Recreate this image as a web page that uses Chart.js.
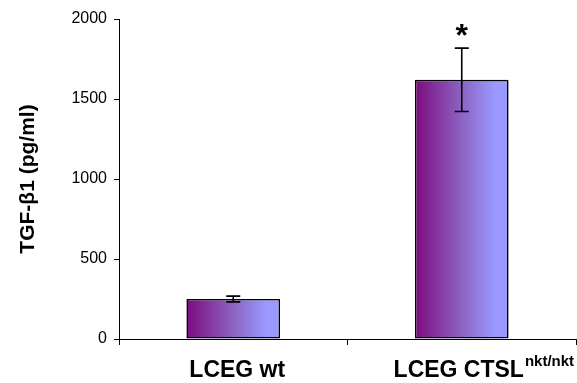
<!DOCTYPE html>
<html>
<head>
<meta charset="utf-8">
<script src="https://cdn.jsdelivr.net/npm/chart.js@4/dist/chart.umd.min.js"></script>
<style>
  html, body { margin: 0; padding: 0; background: #ffffff; }
  #wrap { width: 577px; height: 383px; }
</style>
</head>
<body>
<div id="wrap"><canvas id="c" width="577" height="383"></canvas></div>
<script>
// Group names and the superscript that follows each name
const categories = ['LCEG wt', 'LCEG CTSL'];
const superscripts = ['', 'nkt/nkt'];

// TGF-β1 concentration (pg/ml): mean and error
const means = [250, 1620];
const errors = [18, 198];

// Significance markers above the error bars
const markers = ['', '*'];

// Y-axis ticks
const yTicks = [0, 500, 1000, 1500, 2000];

const FONT = 'Arial, "Liberation Sans", sans-serif';
const BAR_PCT = 0.41;

// Horizontal purple -> periwinkle gradient spanning each bar
function barFill(context) {
  const chart = context.chart;
  const xs = chart.scales.x;
  if (!xs || !chart.chartArea) return '#8c63c2';
  const cx = xs.getPixelForValue(context.dataIndex);
  const half = (xs.width / categories.length) * BAR_PCT / 2;
  const g = chart.ctx.createLinearGradient(cx - half, 0, cx + half, 0);
  g.addColorStop(0, '#7c0c7e');
  g.addColorStop(0.5, '#8c63c2');
  g.addColorStop(0.85, '#9999ff');
  g.addColorStop(1, '#9999ff');
  return g;
}

// Error bars, significance markers and the category labels
const annotations = {
  id: 'annotations',
  afterDatasetsDraw(chart) {
    const ctx = chart.ctx;
    const y = chart.scales.y;
    const x = chart.scales.x;
    const meta = chart.getDatasetMeta(0);
    ctx.save();
    ctx.strokeStyle = '#000';
    ctx.lineWidth = 1.6;
    meta.data.forEach((el, i) => {
      const cx = el.x;
      const top = y.getPixelForValue(means[i] + errors[i]);
      const bot = y.getPixelForValue(means[i] - errors[i]);
      const cap = 7;
      ctx.beginPath();
      ctx.moveTo(cx, top); ctx.lineTo(cx, bot);
      ctx.moveTo(cx - cap, top); ctx.lineTo(cx + cap, top);
      ctx.moveTo(cx - cap, bot); ctx.lineTo(cx + cap, bot);
      ctx.stroke();
      if (markers[i]) {
        ctx.fillStyle = '#000';
        ctx.font = 'bold 32px ' + FONT;
        ctx.textAlign = 'center';
        ctx.textBaseline = 'alphabetic';
        ctx.fillText(markers[i], cx, top - 2);
      }
    });

    // Category labels with optional superscript
    ctx.fillStyle = '#000';
    ctx.textBaseline = 'alphabetic';
    categories.forEach((name, i) => {
      const cx = x.getPixelForValue(i);
      ctx.font = 'bold 23px ' + FONT;
      const w = ctx.measureText(name).width;
      const left = cx - w / 2 + (superscripts[i] ? -3 : 4);
      ctx.textAlign = 'left';
      ctx.fillText(name, left, 377);
      if (superscripts[i]) {
        ctx.font = 'bold 15px ' + FONT;
        ctx.fillText(superscripts[i], left + w + 1, 366);
      }
    });
    ctx.restore();
  }
};

new Chart(document.getElementById('c'), {
  type: 'bar',
  data: {
    labels: categories,
    datasets: [{
      data: means,
      backgroundColor: barFill,
      borderColor: '#000',
      borderWidth: 1.6,
      borderSkipped: false,
      barPercentage: BAR_PCT,
      categoryPercentage: 1.0
    }]
  },
  options: {
    responsive: false,
    animation: false,
    devicePixelRatio: 1,
    layout: { padding: { top: 19, right: 1, left: 0, bottom: 0 } },
    plugins: {
      legend: { display: false },
      tooltip: { enabled: false }
    },
    scales: {
      x: {
        type: 'category',
        offset: true,
        ticks: { display: false },
        grid: {
          display: true,
          offset: true,
          drawOnChartArea: false,
          drawTicks: true,
          tickLength: 6,
          color: '#000',
          lineWidth: 1
        },
        border: { display: true, color: '#000', width: 1 },
        afterFit(scale) { scale.height = 44; }
      },
      y: {
        min: 0,
        max: 2000,
        afterBuildTicks(scale) { scale.ticks = yTicks.map(v => ({ value: v })); },
        ticks: {
          color: '#000',
          font: { family: FONT, size: 16 },
          padding: 7,
          callback: v => String(v)
        },
        grid: {
          display: true,
          drawOnChartArea: false,
          drawTicks: true,
          tickLength: 5,
          color: '#000',
          lineWidth: 1
        },
        border: { display: true, color: '#000', width: 1 },
        title: {
          display: true,
          text: 'TGF-β1 (pg/ml)',
          color: '#000',
          font: { family: FONT, size: 21, weight: 'bold' },
          padding: { top: 16, bottom: 0 }
        },
        afterFit(scale) { scale.width = 119; }
      }
    }
  },
  plugins: [annotations]
});
</script>
</body>
</html>
